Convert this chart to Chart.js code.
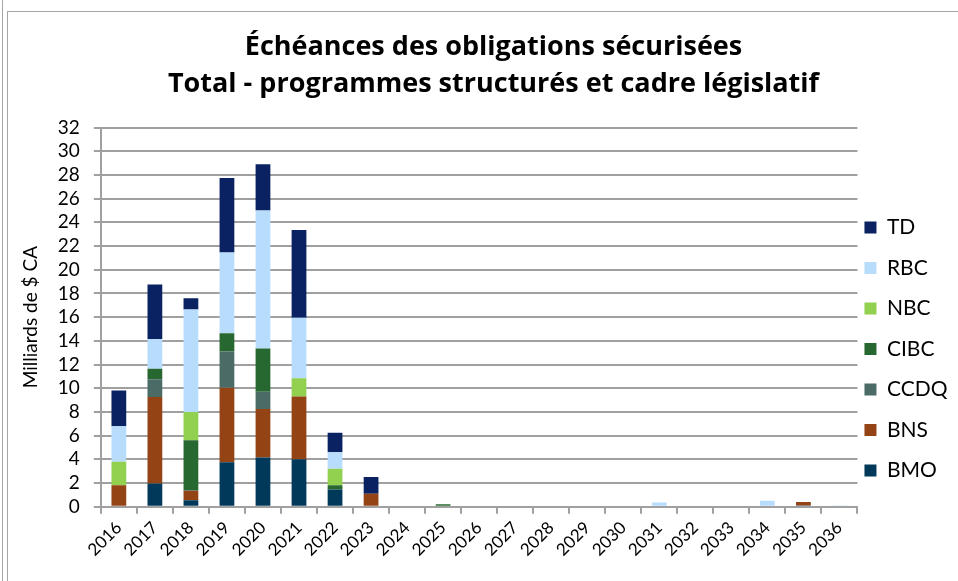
<!DOCTYPE html>
<html><head><meta charset="utf-8">
<script src="https://cdn.jsdelivr.net/npm/chart.js@4"></script>
<style>
html,body{margin:0;padding:0;background:#fff;}
#wrap{position:relative;width:958px;height:581px;}
canvas{position:absolute;left:0;top:0;}
.ln{position:absolute;background:#a6a6a6;}
</style></head><body>
<div id="wrap">
<canvas id="c" width="958" height="581"></canvas>
<div class="ln" style="left:2px;top:0;width:1px;height:581px"></div>
<div class="ln" style="left:7px;top:11px;width:1px;height:570px"></div>
<div class="ln" style="left:7px;top:11px;width:951px;height:1px"></div>
</div>
<script>
const years = ['2016','2017','2018','2019','2020','2021','2022','2023','2024','2025','2026','2027','2028','2029','2030','2031','2032','2033','2034','2035','2036'];
const BMO  = [0, 1.95, 0.55, 3.75, 4.15, 4.0, 1.45, 0, 0, 0, 0, 0, 0, 0, 0, 0, 0, 0, 0, 0.1, 0];
const BNS  = [1.8, 7.3, 0.8, 6.3, 4.1, 5.3, 0, 1.1, 0, 0, 0, 0, 0, 0, 0, 0, 0, 0, 0, 0.3, 0];
const CCDQ = [0, 1.5, 0.05, 3.05, 1.45, 0, 0, 0, 0, 0, 0, 0, 0, 0, 0, 0, 0, 0, 0, 0, 0];
const CIBC = [0, 0.9, 4.2, 1.55, 3.65, 0, 0.35, 0, 0, 0.2, 0, 0, 0, 0, 0, 0, 0, 0, 0, 0, 0];
const NBC  = [2.0, 0, 2.4, 0, 0, 1.55, 1.4, 0, 0, 0, 0, 0, 0, 0, 0, 0, 0, 0, 0, 0, 0];
const RBC  = [3.0, 2.5, 8.65, 6.8, 11.65, 5.1, 1.4, 0, 0, 0, 0, 0, 0, 0, 0, 0.35, 0, 0, 0.5, 0, 0.1];
const TD   = [3.0, 4.6, 0.95, 6.3, 3.9, 7.4, 1.65, 1.4, 0, 0, 0, 0, 0, 0, 0, 0, 0, 0, 0, 0, 0];
const yTicks = [0,2,4,6,8,10,12,14,16,18,20,22,24,26,28,30,32];

const FONT = 'Lato, "Open Sans", sans-serif';
const series = [
  ['BMO', BMO, '#01395a'],
  ['BNS', BNS, '#944315'],
  ['CCDQ', CCDQ, '#4a6b66'],
  ['CIBC', CIBC, '#276830'],
  ['NBC', NBC, '#92d050'],
  ['RBC', RBC, '#b8ddfc'],
  ['TD', TD, '#0a2261']
];
const legendShift = {
  id: 'legendShift',
  afterLayout(chart) {
    const l = chart.legend;
    const dx = 12.5, dy = 62;
    l.left -= dx; l.right -= dx; l.top += dy; l.bottom += dy;
  }
};
new Chart(document.getElementById('c'), {
  type: 'bar',
  data: {
    labels: years,
    datasets: series.map(s => ({label: s[0], data: s[1], backgroundColor: s[2], borderWidth: 0,
      barPercentage: 0.41, categoryPercentage: 1}))
  },
  plugins: [legendShift],
  options: {
    responsive: false, animation: false,
    layout: {padding: {left: 17, right: -12, top: 10, bottom: 17}},
    plugins: {
      title: {display: true, text: ['Échéances des obligations sécurisées', 'Total - programmes structurés et cadre législatif'],
        color: '#000', font: {family: '"Open Sans", Lato, sans-serif', size: 27, weight: 'bold', lineHeight: 1.4}, padding: {top: 18, bottom: 24}},
      legend: {position: 'right', reverse: true,
        labels: {boxWidth: 12, boxHeight: 12, padding: 19.5, color: '#000', font: {family: FONT, size: 21}}},
      tooltip: {enabled: false}
    },
    scales: {
      x: {stacked: true,
        grid: {drawOnChartArea: false, drawTicks: true, tickLength: 7, color: '#a0a0a0', lineWidth: 2},
        border: {color: '#a0a0a0', width: 2},
        ticks: {color: '#000', minRotation: 45, maxRotation: 45, autoSkip: false, font: {family: FONT, size: 17}, padding: 4}
      },
      y: {stacked: true, min: 0, max: 32,
        afterBuildTicks: ax => { ax.ticks = yTicks.map(v => ({value: v})); },
        grid: {color: '#a0a0a0', lineWidth: 2, tickLength: 7},
        border: {color: '#a0a0a0', width: 2},
        ticks: {color: '#000', autoSkip: false, font: {family: FONT, size: 19}, padding: 14},
        title: {display: true, text: 'Milliards de $ CA', color: '#000', font: {family: FONT, size: 19}, padding: 2}
      }
    }
  }
});
</script>
</body></html>
